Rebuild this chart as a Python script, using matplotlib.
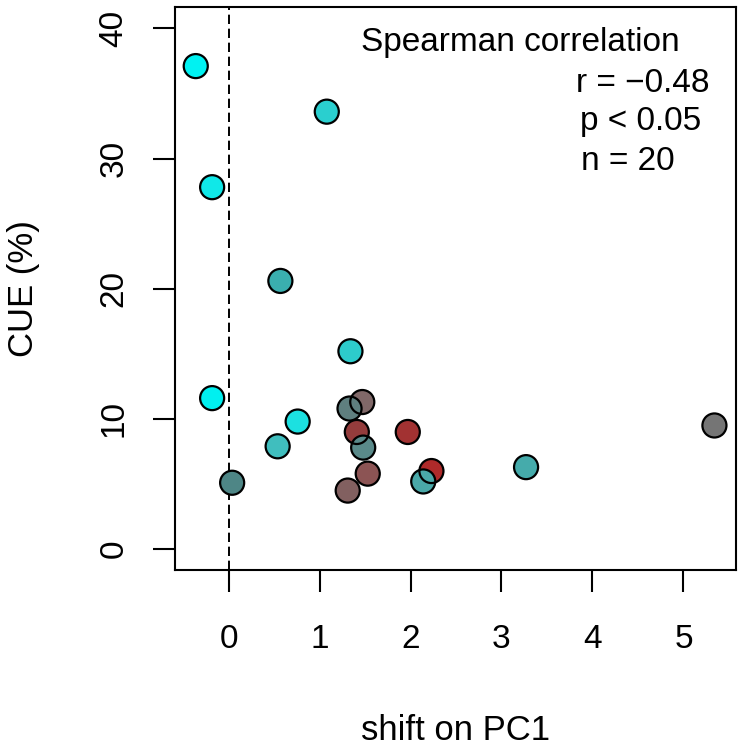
import matplotlib
matplotlib.use("Agg")
import matplotlib.pyplot as plt

# shift on PC1 vs CUE (%), one entry per sample (n = 20)
shift_pc1 = [-0.36, 1.08, -0.18, 0.57, 1.34, -0.18, 1.47, 1.33, 0.76, 1.41,
             1.97, 0.54, 1.48, 5.34, 3.27, 2.23, 2.14, 1.53, 1.31, 0.04]
cue_pct = [37.1, 33.6, 27.8, 20.6, 15.2, 11.6, 11.3, 10.8, 9.8, 9.0,
           9.0, 7.9, 7.8, 9.5, 6.3, 6.0, 5.2, 5.8, 4.5, 5.1]
point_colors = ["#00f2f2", "#2acfcf", "#10e8e8", "#3aafaf", "#2dcccc",
                "#00f0f0", "#806868", "#5f7f7f", "#1ce0e0", "#943c3c",
                "#a23232", "#40bebe", "#5a8a8a", "#757575", "#45abab",
                "#ae2a2a", "#4aa8a8", "#8c5454", "#826060", "#4e8686"]

x_ticks = [0, 1, 2, 3, 4, 5]
y_ticks = [0, 10, 20, 30, 40]
stats_lines = ["r = \u22120.48", "p < 0.05", "n = 20"]

plt.rcParams["font.family"] = ["Liberation Sans", "DejaVu Sans"]

W = 747
fig = plt.figure(figsize=(7.47, 7.47), dpi=100)
ax = fig.add_axes([175 / W, (W - 570) / W, 561 / W, 562.5 / W])

ax.axvline(0, color="black", lw=1.4, dashes=(4.8, 2.4), zorder=1)

# fills first, then outlines on top so overlapping rims stay visible
ax.scatter(shift_pc1, cue_pct, s=300, c=point_colors, edgecolors="none", zorder=2)
ax.scatter(shift_pc1, cue_pct, s=300, facecolors="none", edgecolors="black",
           linewidths=1.6, zorder=3)

ax.set_xlim(-0.588, 5.577)
ax.set_ylim(-1.6, 41.6)
ax.set_xticks(x_ticks, [str(v) for v in x_ticks])
ax.set_yticks(y_ticks, [str(v) for v in y_ticks], rotation=90, va="center")
ax.tick_params(axis="both", direction="out", length=15.8, width=1.5, labelsize=24)
ax.tick_params(axis="x", pad=23)
ax.tick_params(axis="y", pad=17)
for s in ax.spines.values():
    s.set_linewidth(1.5)

ax.set_xlabel("shift on PC1", fontsize=25)
ax.set_ylabel("CUE (%)", fontsize=25)
ax.xaxis.set_label_coords(0.5, -0.256)
ax.yaxis.set_label_coords(-0.24, 0.5)

ax.text(3.21, 38.25, "Spearman correlation", fontsize=24, ha="center", va="baseline")
for txt, tx, ty in zip(stats_lines, [4.555, 4.53, 4.39], [35.08, 32.23, 29.15]):
    ax.text(tx, ty, txt, fontsize=24, ha="center", va="baseline")

fig.savefig("out.png", dpi=100)
